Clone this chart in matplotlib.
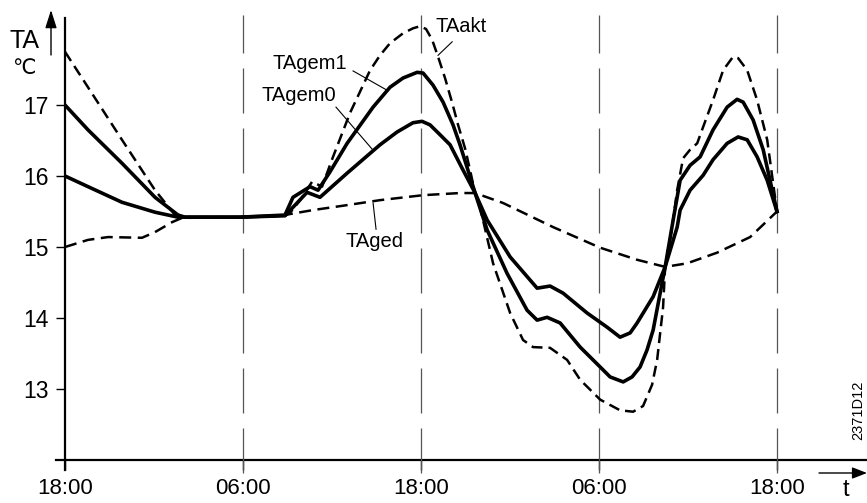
import matplotlib
matplotlib.use("Agg")
import matplotlib.pyplot as plt

# fonts: Arial-like, with fallback for the degree sign
plt.rcParams['font.family'] = ['Liberation Sans', 'DejaVu Sans']

# time in hours from the first 18:00 mark
tick_hours = [0, 12, 24, 36, 48]
tick_labels = ["18:00", "06:00", "18:00", "06:00", "18:00"]
y_ticks = [13, 14, 15, 16, 17]

# TAakt - actual outside temperature (dashed)
akt_h = [0, 1.55, 3.84, 6.07, 7.42, 8.09, 11.8, 14.83, 15.17, 15.85, 16.66, 17.33,
         18.07, 19.22, 20.57, 21.24, 21.91, 22.79, 23.46, 23.94, 24.34, 24.75, 25.15,
         25.62, 26.09, 26.50, 26.97, 27.31, 27.65,
         27.98, 28.86, 30.01, 30.88, 31.56, 32.70, 33.85, 34.73, 36.08, 37.42, 38.30,
         38.97, 39.58, 39.92, 40.32, 40.46, 40.93, 41.27, 41.67, 42.14, 42.62, 43.02,
         43.69, 44.37, 45.04, 45.38, 45.99, 46.66, 47.34, 48.0]
akt_t = [17.75, 17.25, 16.51, 15.80, 15.45, 15.42, 15.42, 15.44, 15.48, 15.66, 15.92, 15.85,
         16.27, 16.89, 17.49, 17.70, 17.87, 18.01, 18.08, 18.11, 18.07, 17.92, 17.68,
         17.38, 17.04, 16.72, 16.39, 16.08, 15.76,
         15.56, 14.77, 14.07, 13.69, 13.59, 13.58, 13.41, 13.13, 12.85, 12.70, 12.68,
         12.76, 13.06, 13.41, 14.15, 14.72, 15.28, 15.80, 16.25, 16.37, 16.46, 16.69,
         17.07, 17.49, 17.68, 17.66, 17.49, 17.07, 16.51, 15.50]

# TAgem1 - mixed temperature 1 (solid)
gem1_h = [0, 1.55, 3.84, 6.07, 7.62, 8.09, 11.8, 14.83, 15.37, 16.52, 17.06, 17.87,
          19.02, 20.77, 21.91, 22.79, 23.74, 24.14, 24.81, 25.49, 26.16, 26.63, 27.17,
          27.65, 28.46, 29.80, 31.15, 31.83, 32.50, 33.38, 34.73, 36.08, 36.75, 37.63,
          38.23, 38.77, 39.24, 39.65, 40.46, 41.00, 41.47, 42.14, 42.82, 43.69, 44.64,
          45.31, 45.72, 46.39, 47.07, 48.0]
gem1_t = [17.0, 16.65, 16.18, 15.70, 15.45, 15.42, 15.42, 15.45, 15.70, 15.85, 15.80, 16.06,
          16.46, 16.97, 17.25, 17.38, 17.46, 17.45, 17.28, 17.04, 16.72, 16.44, 16.08,
          15.76, 15.24, 14.63, 14.11, 13.97, 14.01, 13.93, 13.59, 13.31, 13.17, 13.10,
          13.17, 13.31, 13.55, 13.83, 14.72, 15.38, 15.94, 16.15, 16.27, 16.65, 16.97,
          17.08, 17.04, 16.79, 16.37, 15.50]

# TAgem0 - mixed temperature 0 (solid)
gem0_h = [0, 1.55, 3.84, 6.07, 7.62, 11.8, 14.83, 16.32, 17.19, 19.02, 21.24, 22.39,
          23.46, 24.07, 24.61, 25.29, 25.96, 26.77, 27.65, 28.46, 30.01, 31.83, 32.70,
          33.58, 35.20, 36.55, 37.42, 38.10, 38.57, 39.65, 40.46, 41.27, 41.47, 42.14,
          43.02, 43.69, 44.64, 45.38, 45.99, 46.66, 47.34, 48.0]
gem0_t = [16.0, 15.85, 15.63, 15.49, 15.42, 15.42, 15.44, 15.77, 15.70, 16.04, 16.44, 16.62,
          16.75, 16.77, 16.72, 16.58, 16.44, 16.11, 15.76, 15.38, 14.86, 14.42, 14.45,
          14.35, 14.07, 13.87, 13.73, 13.79, 13.93, 14.30, 14.72, 15.28, 15.52, 15.80,
          16.01, 16.23, 16.46, 16.55, 16.51, 16.27, 15.94, 15.50]

# TAged - attenuated temperature (dashed)
ged_h = [0, 1.55, 2.90, 5.19, 6.07, 7.22, 7.89, 11.8, 14.5, 16.72, 19.02, 21.24, 24.14,
         26.63, 27.65, 29.53, 32.91, 36.08, 38.57, 40.46, 41.94, 43.96, 46.19, 48.0]
ged_t = [15.0, 15.10, 15.14, 15.13, 15.21, 15.35, 15.41, 15.42, 15.44, 15.52, 15.59, 15.66, 15.73,
         15.76, 15.76, 15.62, 15.28, 14.99, 14.82, 14.72, 14.77, 14.92, 15.14, 15.50]

fig = plt.figure(figsize=(8.67, 5.03), dpi=100)
ax = fig.add_axes([65 / 867, 43 / 503, 802 / 867, 442 / 503])
ax.set_xlim(0, 802 / 14.833)
ax.set_ylim(12, 12 + 442 / 71)

for s in ax.spines.values():
    s.set_visible(False)

# hand-drawn style axes: left and bottom lines sticking out a bit
ax.plot([0, 0], [-0.023, 1], transform=ax.transAxes, color="black", lw=1.6, clip_on=False)
ax.plot([-0.011, 1], [0, 0], transform=ax.transAxes, color="black", lw=1.6, clip_on=False)

# vertical dashed day/night lines
for h in tick_hours[1:]:
    ax.axvline(h, ymin=-0.029, ymax=1.007, color="#555555", lw=0.9,
               dashes=(36, 12), clip_on=False)

# curves
kw = dict(color="black", solid_joinstyle="round", dash_joinstyle="round")
ax.plot(akt_h, akt_t, lw=1.8, dashes=(4.4, 2.4), **kw)
ax.plot(ged_h, ged_t, lw=1.8, dashes=(4.8, 2.6), **kw)
ax.plot(gem1_h, gem1_t, lw=2.6, **kw)
ax.plot(gem0_h, gem0_t, lw=2.6, **kw)

# ticks
ax.set_xticks(tick_hours)
ax.set_xticklabels(tick_labels)
ax.set_yticks(y_ticks)
ax.tick_params(axis="x", length=7, width=1, pad=6, labelsize=16)
ax.tick_params(axis="y", length=6.5, width=1, pad=5, labelsize=16.5)

# curve labels with leader lines
labels = ["TAakt", "TAgem1", "TAgem0", "TAged"]
label_pos = [(24.95, 18.11), (13.96, 17.58), (13.28, 17.13), (18.88, 15.08)]
leaders = [((26.1, 17.89), (25.15, 17.70)),
           ((19.42, 17.48), (21.78, 17.20)),
           ((18.27, 16.97), (20.70, 16.38)),
           ((20.77, 15.62), (20.97, 15.25))]
for lab, (lx, ly), (p0, p1) in zip(labels, label_pos, leaders):
    ax.text(lx, ly, lab, fontsize=14.5, ha="left", va="center")
    ax.plot([p0[0], p1[0]], [p0[1], p1[1]], color="black", lw=0.8)

# axis titles and arrows (figure pixels)
fig.text(10 / 867, 1 - 41 / 503, "TA", fontsize=18, ha="left", va="center")
fig.text(12 / 867, 1 - 68 / 503, "℃", fontsize=15, ha="left", va="center")
ax.annotate("", xy=(51, 493), xytext=(51, 448), xycoords="figure pixels",
            textcoords="figure pixels",
            arrowprops=dict(arrowstyle="-|>,head_length=1.1,head_width=0.35",
                            color="black", lw=1, shrinkA=0, shrinkB=0))
ax.annotate("", xy=(867, 30), xytext=(819, 30), xycoords="figure pixels",
            textcoords="figure pixels",
            arrowprops=dict(arrowstyle="-|>,head_length=0.9,head_width=0.35",
                            color="black", lw=1, shrinkA=0, shrinkB=0))
fig.text(846 / 867, 1 - 490 / 503, "t", fontsize=17, ha="center", va="center")
fig.text(858 / 867, 1 - 410 / 503, "2371D12", fontsize=10.5, rotation=90,
         ha="center", va="center")

fig.savefig("out.png", dpi=100)
